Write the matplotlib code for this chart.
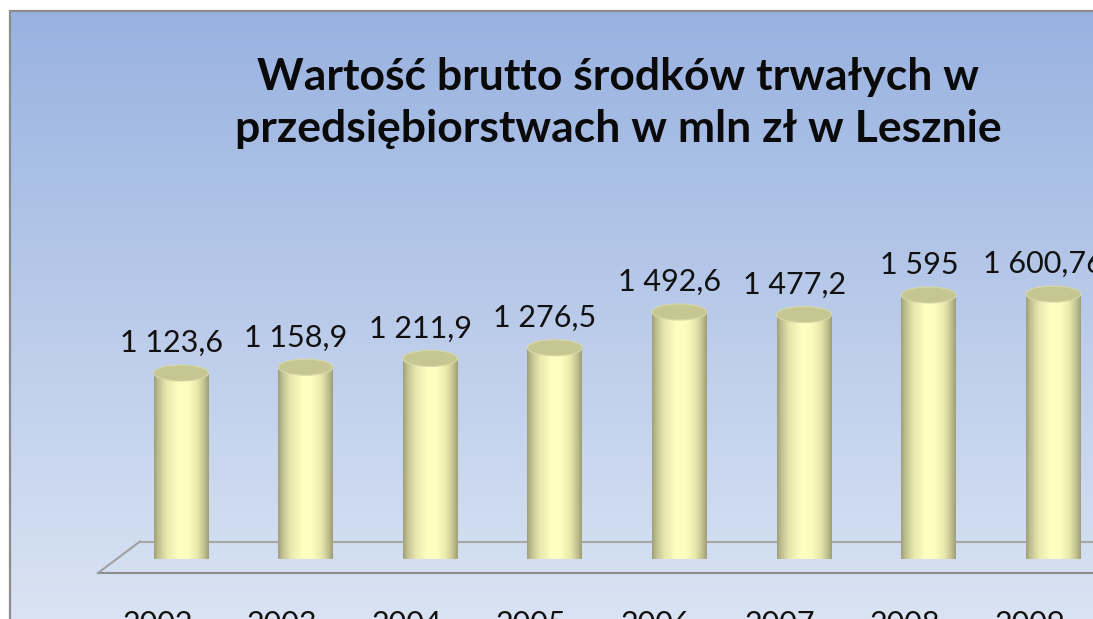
import numpy as np
import matplotlib
matplotlib.use("Agg")
import matplotlib.pyplot as plt
from matplotlib.colors import LinearSegmentedColormap
from matplotlib.patches import Ellipse

plt.rcParams["font.family"] = ["Lato", "DejaVu Sans"]

lata = ["2002", "2003", "2004", "2005", "2006", "2007", "2008", "2009"]
wartosci = [1123.6, 1158.9, 1211.9, 1276.5, 1492.6, 1477.2, 1595, 1600.76]
tytul = "Wartość brutto środków trwałych w\nprzedsiębiorstwach w mln zł w Lesznie"


def etykieta(v):
    s = f"{v:,}"
    return s.replace(",", " ").replace(".", ",")


W, H = 1093, 619
fig = plt.figure(figsize=(W / 100, H / 100), dpi=100)
fig.patch.set_facecolor("white")

# tlo w pikselach
bg = fig.add_axes([0, 0, 1, 1])
bg.set_xlim(0, W)
bg.set_ylim(H, 0)
bg.axis("off")
grad = np.linspace(0, 1, 256).reshape(-1, 1)
cm_bg = LinearSegmentedColormap.from_list("bg", ["#98B2E0", "#BACBEA", "#D9E3F3"])
bg.imshow(grad, cmap=cm_bg, extent=(10, W + 5, H, 10), aspect="auto", zorder=0)
bg.plot([10, 10], [H, 10], color="#8C8C8C", lw=1.6, solid_capstyle="butt")
bg.plot([9.5, W], [10.5, 10.5], color="#8C8C8C", lw=1.6, solid_capstyle="butt")
# podloga
bg.plot([140, W], [541.5, 541.5], color="#A8A8A8", lw=1.5)
bg.plot([98, W], [573, 573], color="#8C8C8C", lw=1.5)
bg.plot([98, 140], [573, 541.5], color="#A0A0A0", lw=1.5)
bg.text(618, 103, tytul, ha="center", va="center", fontsize=32,
        fontweight="bold", color="#0A0A0A", linespacing=1.35)

# wykres
ax = fig.add_axes([0.1086, 0.0969, 0.912, 0.4813])
ax.axis("off")
ax.patch.set_alpha(0)

x = np.arange(len(lata))
w = 0.44
cm_cyl = LinearSegmentedColormap.from_list(
    "cyl",
    [(0.0, "#A2A27A"), (0.08, "#C2C292"), (0.22, "#E6E6AE"), (0.45, "#FFFFC2"),
     (0.62, "#FDFDBE"), (0.8, "#E8E8AC"), (0.92, "#C2C290"), (1.0, "#A0A078")])
poziom = np.linspace(0, 1, 64).reshape(1, -1)

for xi, v, rok in zip(x, wartosci, lata):
    ax.add_patch(Ellipse((xi, 0), w, 54, facecolor="#FBFBD4", edgecolor="none", zorder=2))
    ax.imshow(poziom, cmap=cm_cyl, extent=(xi - w / 2, xi + w / 2, 0, v),
              aspect="auto", zorder=3)
    ax.add_patch(Ellipse((xi, v), w, 97, facecolor="#C6C692",
                         edgecolor="#D8D8A8", lw=0.8, zorder=4))
    ax.annotate(etykieta(v), (xi, v), xytext=(-7, 15), textcoords="offset points",
                ha="center", va="baseline", fontsize=22, color="#111111",
                annotation_clip=False)
    ax.annotate(rok, (xi, 0), xytext=(-17, -47), textcoords="offset points",
                ha="center", va="center", fontsize=22, color="#111111",
                annotation_clip=False)

ax.set_xlim(-0.5, 7.5)
ax.set_ylim(0, 1800)

fig.savefig("out.png", dpi=100)
